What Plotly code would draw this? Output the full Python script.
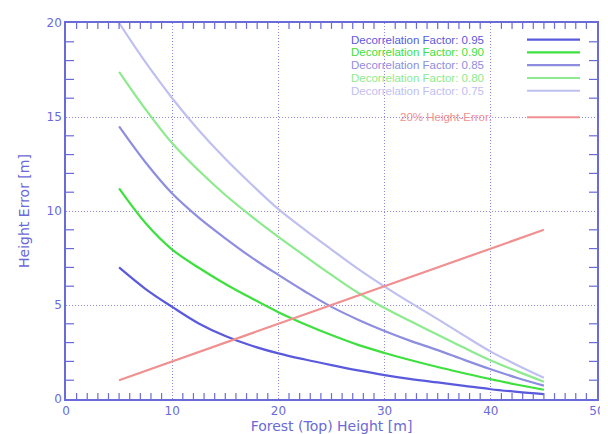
import plotly.graph_objects as go

# values
heights = [5, 7.5, 10, 12.5, 15, 17.5, 20, 22.5, 25, 27.5, 30, 32.5, 35, 37.5, 40, 42.5, 45]
err_095 = [7.0, 5.85, 4.9, 4.02, 3.35, 2.83, 2.43, 2.1, 1.8, 1.52, 1.27, 1.06, 0.88, 0.7, 0.52, 0.38, 0.26]
err_090 = [11.2, 9.35, 7.95, 6.98, 6.12, 5.35, 4.62, 3.98, 3.4, 2.88, 2.45, 2.06, 1.7, 1.37, 1.05, 0.76, 0.49]
err_085 = [14.5, 12.58, 10.93, 9.65, 8.55, 7.52, 6.6, 5.72, 4.9, 4.22, 3.62, 3.08, 2.6, 2.08, 1.58, 1.12, 0.71]
err_080 = [17.4, 15.4, 13.6, 12.15, 10.85, 9.7, 8.62, 7.6, 6.6, 5.65, 4.84, 4.12, 3.42, 2.72, 2.05, 1.47, 0.92]
err_075 = [20.0, 17.9, 16.0, 14.3, 12.78, 11.4, 10.1, 9.0, 7.95, 6.92, 5.98, 5.1, 4.25, 3.37, 2.52, 1.8, 1.13]

ref_heights = [5, 45]
ref_error = [1.0, 9.0]

factors = ["0.95", "0.90", "0.85", "0.80", "0.75"]
series = [err_095, err_090, err_085, err_080, err_075]
colors = ["#5a5adc", "#3ee03e", "#8e8ee0", "#8eea8e", "#c0c0f0"]
red = "#f09090"
axis_col = "#6a6ad8"
leg_font = "Liberation Sans"
ax_font = "DejaVu Sans"

x_range = [0, 50]
y_range = [0, 20]
# small tick positions (majors carry the dotted grid instead)
x_minor = [v for v in range(1, 50) if v % 10 != 0]
y_minor = [v for v in range(1, 20) if v % 5 != 0]

H, W = 434, 608
l, r, t, b = 58, 19, 8, 43
pw, ph = W - l - r, H - t - b


def px_x(p):
    return (p - l) / pw


def px_y(p):
    return 1 - (p - t) / ph


fig = go.Figure()
for fac, ys, c in zip(factors, series, colors):
    fig.add_trace(go.Scatter(x=heights, y=ys, mode="lines",
                             line=dict(color=c, width=2.2, shape="spline", smoothing=1.0),
                             name="Decorrelation Factor: " + fac))
fig.add_trace(go.Scatter(x=ref_heights, y=ref_error, mode="lines",
                         line=dict(color=red, width=2.2), name="20% Height-Error:"))

# inward ticks on all four sides, drawn as one segmented line trace
xlen = 6 / ph * (y_range[1] - y_range[0])
ylen = 8 / pw * (x_range[1] - x_range[0])
tx, ty = [], []
for v in x_minor:
    tx += [v, v, None, v, v, None]
    ty += [y_range[0], y_range[0] + xlen, None, y_range[1], y_range[1] - xlen, None]
for v in y_minor:
    tx += [x_range[0], x_range[0] + ylen, None, x_range[1], x_range[1] - ylen, None]
    ty += [v, v, None, v, v, None]
fig.add_trace(go.Scatter(x=tx, y=ty, mode="lines", line=dict(color=axis_col, width=1.2),
                         hoverinfo="skip", connectgaps=False))

# IDL style legend: coloured text, then a short line sample
row_y = [25, 38, 51, 64, 77]
for fac, c, yy in zip(factors, colors, row_y):
    fig.add_annotation(x=px_x(341), y=px_y(yy), xref="paper", yref="paper",
                       text="Decorrelation Factor: " + fac, showarrow=False,
                       xanchor="left", yanchor="middle",
                       font=dict(family=leg_font, size=11.5, color=c))
    fig.add_shape(type="line", xref="paper", yref="paper",
                  x0=px_x(519), x1=px_x(572), y0=px_y(yy), y1=px_y(yy),
                  line=dict(color=c, width=2.2))
fig.add_annotation(x=px_x(390), y=px_y(104), xref="paper", yref="paper",
                   text="20% Height-Error:", showarrow=False,
                   xanchor="left", yanchor="middle",
                   font=dict(family=leg_font, size=11.5, color=red))
fig.add_shape(type="line", xref="paper", yref="paper",
              x0=px_x(519), x1=px_x(572), y0=px_y(104), y1=px_y(104),
              line=dict(color=red, width=2.2))

axis_common = dict(
    showline=True, linecolor=axis_col, linewidth=1.5, mirror=True,
    showgrid=True, gridcolor="#8c8ce6", griddash="1px,2px", gridwidth=1,
    zeroline=False, ticks="", color=axis_col,
    tickfont=dict(family=ax_font, size=12, color=axis_col),
)
fig.update_layout(
    xaxis=dict(range=x_range, dtick=10, tick0=0,
               title=dict(text="Forest (Top) Height [m]",
                          font=dict(family=ax_font, size=14, color=axis_col), standoff=0),
               **axis_common),
    yaxis=dict(range=y_range, dtick=5, tick0=0,
               title=dict(text="Height Error [m]",
                          font=dict(family=ax_font, size=14, color=axis_col), standoff=14),
               **axis_common),
    width=W, height=H, showlegend=False,
    margin=dict(l=l, r=r, t=t, b=b),
    plot_bgcolor="white", paper_bgcolor="white",
)
fig.write_html("out.html")
